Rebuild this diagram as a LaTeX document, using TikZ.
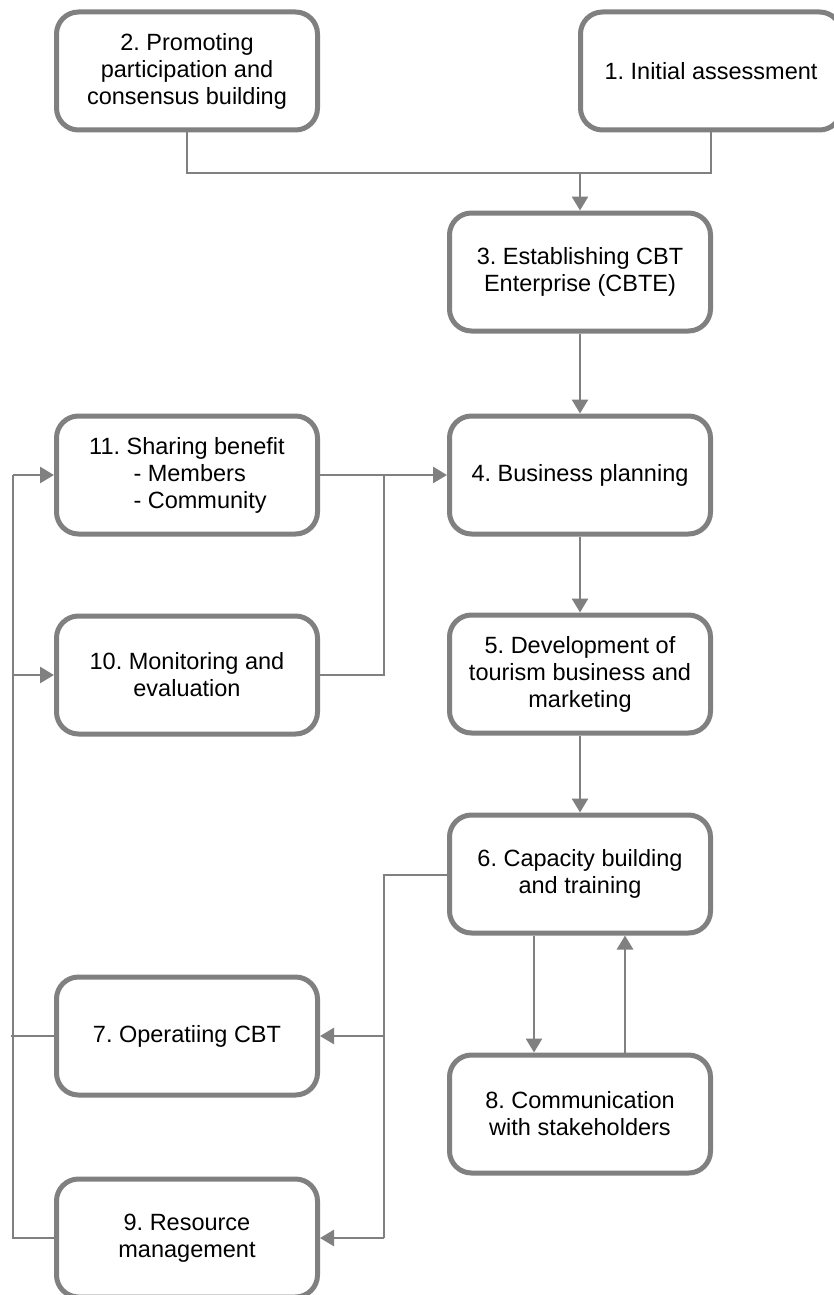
\documentclass[tikz,border=0pt]{standalone}
\usepackage{fontspec}
\setmainfont{Liberation Sans}
\usetikzlibrary{arrows.meta}
\definecolor{linegray}{HTML}{808080}
\tikzset{
  box/.style={draw=linegray, line width=5pt, rounded corners=22pt, fill=white,
    minimum width=261pt, minimum height=118pt, inner sep=0pt, align=center,
    font=\fontsize{23.5pt}{27pt}\selectfont\frenchspacing, text=black},
  conn/.style={draw=linegray, line width=2.7pt},
  arr/.style={conn, -{Triangle[length=14pt,width=16pt]}}
}
\begin{document}
\begin{tikzpicture}[x=1pt,y=-1pt]
\useasboundingbox (0,0) rectangle (834,1295);
\clip (0,0) rectangle (834,1295);
\fill[white] (0,0) rectangle (834,1295);
% nodes
\node[box] (b2) at (187,71) {2. Promoting\\participation and\\consensus building};
\node[box] (b1) at (711,71) {1. Initial assessment};
\node[box] (b3) at (580,272) {3. Establishing CBT\\Enterprise (CBTE)};
\node[box] (b4) at (580,475) {4. Business planning};
\node[box] (b5) at (580,674) {5. Development of\\tourism business and\\marketing};
\node[box] (b6) at (580,874) {6. Capacity building\\and training};
\node[box] (b8) at (580,1114) {8. Communication\\with stakeholders};
\node[box] (b11) at (187,475) {11. Sharing benefit\\\makebox[107pt][l]{- Members}\\\makebox[107pt][l]{- Community}};
\node[box] (b10) at (187,675) {10. Monitoring and\\evaluation};
\node[box] (b7) at (187,1036) {7. Operatiing CBT};
\node[box] (b9) at (187,1238) {9. Resource\\management};
% helper coordinates
\coordinate (t2) at (b2.south |- 0,173);
\coordinate (t1) at (b1.south |- 0,173);
\coordinate (t3) at (b3.north |- 0,173);
\coordinate (j4) at (384,475);
\coordinate (j10) at (384,675);
\coordinate (j6) at (384,875);
\coordinate (j7) at (384,1036);
\coordinate (j9) at (384,1238);
\coordinate (l11) at (13,475);
\coordinate (l10) at (13,675);
\coordinate (l9) at (13,1238);
\coordinate (l7) at (11,1036);
\coordinate (d6) at (534,0);
\coordinate (u6) at (625,0);
% connectors
\draw[conn] (b2.south) -- (t2) -- (t1) -- (b1.south);
\draw[arr] (t3) -- (b3.north);
\draw[arr] (b3.south) -- (b4.north);
\draw[arr] (b4.south) -- (b5.north);
\draw[arr] (b5.south) -- (b6.north);
\draw[arr] (b11.east) -- (b4.west);
\draw[conn] (b10.east) -- (j10) -- (j4);
\draw[conn] (b6.west |- j6) -- (j6) -- (j9);
\draw[arr] (j7) -- (b7.east);
\draw[arr] (j9) -- (b9.east);
\draw[conn] (b9.west) -- (l9) -- (l11);
\draw[arr] (l11) -- (b11.west);
\draw[arr] (l10) -- (b10.west);
\draw[conn] (l7) -- (b7.west);
\draw[arr] (b6.south -| d6) -- (b8.north -| d6);
\draw[arr] (b8.north -| u6) -- (b6.south -| u6);
\end{tikzpicture}
\end{document}
